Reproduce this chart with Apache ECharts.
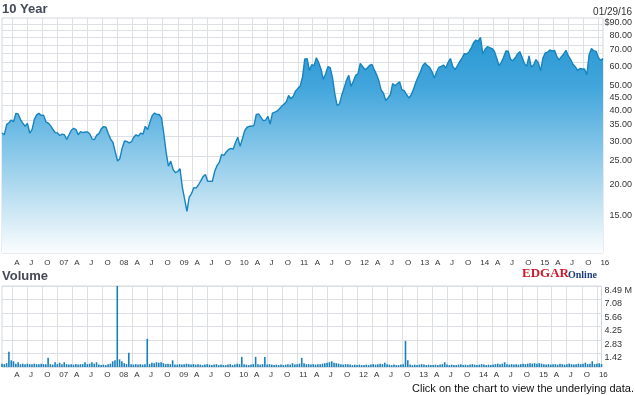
<!DOCTYPE html>
<html><head><meta charset="utf-8">
<script src="https://cdn.jsdelivr.net/npm/echarts@6/dist/echarts.min.js"></script>
<style>html,body{margin:0;padding:0;background:#fff}#c{width:635px;height:395px}</style>
</head><body><div id="c"></div>
<script>
// ---- data ----
const startDate = '2006-01-29';
const endDate = '2016-01-29';
const lastDateLabel = '01/29/16';

const prices = [
31.0,30.5,33.5,34.1,35.0,34.4,37.2,37.0,35.1,34.0,
33.0,33.9,31.0,32.0,35.2,36.7,37.2,36.5,36.6,34.4,
34.0,33.2,32.1,31.1,31.0,30.3,30.7,30.5,29.2,30.5,
31.8,32.4,32.0,30.5,31.4,31.1,31.3,31.3,30.7,29.3,
29.2,30.4,30.9,32.3,32.9,32.7,30.8,29.3,28.4,26.0,
23.9,24.5,27.0,28.8,28.7,28.3,28.6,29.8,30.5,30.1,
31.0,30.7,33.0,32.0,34.3,36.5,37.3,36.8,36.8,35.7,
30.8,25.9,22.8,23.9,22.1,21.5,21.7,22.3,18.8,16.8,
15.0,17.1,17.7,18.7,18.6,19.2,19.9,20.7,21.1,19.8,
19.8,19.8,21.7,22.9,23.6,25.4,25.2,26.0,26.6,26.9,
26.7,28.4,29.8,27.4,29.4,31.7,32.7,33.0,33.0,33.3,
36.8,37.0,35.9,34.8,34.9,36.2,33.7,37.3,37.6,38.0,
38.8,39.7,40.5,41.4,43.9,42.6,43.6,45.7,46.9,47.9,
52.0,61.6,61.8,55.4,58.4,57.9,62.3,59.5,56.1,51.0,
53.6,57.3,56.8,51.6,44.5,40.0,40.6,44.0,47.1,50.5,
52.9,47.8,50.1,52.9,53.7,59.1,57.5,55.8,56.6,58.0,
58.6,55.8,53.4,50.4,46.2,44.9,41.9,42.9,44.2,49.0,
48.0,48.9,49.9,46.3,45.9,44.3,42.9,44.1,46.5,49.5,
52.1,54.6,57.9,59.3,57.9,57.0,54.8,51.6,54.6,57.0,
57.5,58.2,56.6,59.7,61.8,57.5,55.8,57.7,60.1,62.1,
64.7,64.5,65.7,68.2,71.6,73.4,72.5,75.3,64.5,67.4,
69.0,68.4,67.8,66.1,62.1,57.9,59.7,62.5,66.3,66.1,
61.4,60.7,62.1,64.5,65.9,62.5,59.1,57.5,63.3,57.0,
58.4,61.2,59.5,55.2,62.1,65.1,65.5,66.9,66.3,66.7,
63.1,61.0,62.9,64.5,66.7,63.3,61.2,58.6,57.3,55.4,
56.4,56.1,56.1,53.2,64.1,67.8,66.5,66.1,62.3,60.8,61.8
];

// volume in millions
const volumes = [
0.35,0.3,0.4,1.6,0.7,0.6,0.35,0.5,0.3,0.35,
0.3,0.35,0.3,0.3,0.35,0.3,0.3,0.35,0.3,0.3,
0.96,0.3,0.25,0.5,0.3,0.45,0.3,0.5,0.3,0.25,
0.3,0.25,0.3,0.25,0.3,0.3,0.5,0.3,0.35,0.5,
0.35,0.5,0.25,0.2,0.25,0.2,0.3,0.35,0.6,0.7,
8.49,0.8,0.6,0.4,0.3,1.5,0.3,0.25,0.3,0.25,
0.3,0.25,0.3,2.95,0.3,0.45,0.4,0.5,0.45,0.5,
0.4,0.3,0.35,0.3,0.7,0.25,0.25,0.3,0.25,0.3,
0.35,0.3,0.25,0.3,0.25,0.3,0.25,0.2,0.25,0.3,
0.25,0.2,0.25,0.3,0.2,0.25,0.2,0.2,0.25,0.3,
0.2,0.25,0.35,0.3,1.06,0.3,0.25,0.2,0.25,0.3,
1.06,0.3,0.25,0.3,1.06,0.25,0.3,0.25,0.2,0.25,
0.2,0.25,0.2,0.25,0.3,0.25,0.4,0.25,0.3,0.35,
0.96,0.4,0.3,0.3,0.25,0.3,0.25,0.3,0.3,0.35,
0.4,0.45,0.5,0.6,0.45,0.4,0.35,0.3,0.25,0.3,
0.3,0.25,0.2,0.25,0.2,0.25,0.2,0.2,0.25,0.2,
0.25,0.3,0.25,0.3,0.35,0.3,0.45,0.3,0.25,0.2,
0.25,0.2,0.2,0.25,0.3,2.73,0.7,0.25,0.2,0.25,
0.2,0.25,0.3,0.25,0.2,0.25,0.2,0.2,0.25,0.2,
0.25,0.3,0.5,0.25,0.2,0.25,0.2,0.2,0.25,0.3,
0.2,0.25,0.2,0.25,0.3,0.25,0.2,0.25,0.3,0.25,
0.2,0.25,0.2,0.25,0.3,0.35,0.3,0.35,0.5,0.3,
0.25,0.3,0.25,0.3,0.25,0.3,0.35,0.3,0.35,0.4,
0.35,0.4,0.35,0.4,0.35,0.3,0.25,0.3,0.25,0.3,
0.3,0.25,0.35,0.3,0.25,0.3,0.35,0.3,0.25,0.3,
0.35,0.3,0.35,0.45,0.3,0.35,0.6,0.3,0.35,0.4,0.3
];

const quarterTicks = [
'2006-04-01','2006-07-01','2006-10-01',
'2007-01-01','2007-04-01','2007-07-01','2007-10-01',
'2008-01-01','2008-04-01','2008-07-01','2008-10-01',
'2009-01-01','2009-04-01','2009-07-01','2009-10-01',
'2010-01-01','2010-04-01','2010-07-01','2010-10-01',
'2011-01-01','2011-04-01','2011-07-01','2011-10-01',
'2012-01-01','2012-04-01','2012-07-01','2012-10-01',
'2013-01-01','2013-04-01','2013-07-01','2013-10-01',
'2014-01-01','2014-04-01','2014-07-01','2014-10-01',
'2015-01-01','2015-04-01','2015-07-01','2015-10-01',
'2016-01-01'
];
const quarterLabels = [
'A','J','O','07','A','J','O','08','A','J','O','09','A','J','O','10',
'A','J','O','11','A','J','O','12','A','J','O','13','A','J','O','14',
'A','J','O','15','A','J','O','16'
];

const priceGridValues = [15,20,25,30,35,40,45,50,55,60,65,70,75,80,85];
const priceLabelValues = [15,20,25,30,35,40,45,50,60,70,80,90];
const volumeMax = 8.49;
const volumeStep = 1.415;
const volumeTickLabels = ['', '1.42', '2.83', '4.25', '5.66', '7.08', '8.49 M'];

// ---- build ----
const ts = s => Date.parse(s + 'T00:00:00Z');
const t0 = ts(startDate), t1 = ts(endDate);
const step = (t1 - t0) / (prices.length - 1);
const dates = prices.map((_, i) => t0 + i * step);
const priceData = prices.map((p, i) => [dates[i], p]);
const volData = volumes.map((v, i) => [dates[i], v]);
const qTs = quarterTicks.map(ts);
const qLabel = {};
qTs.forEach((t, i) => qLabel[t] = quarterLabels[i]);
const labelFor = v => {
  for (let i = 0; i < qTs.length; i++) if (Math.abs(qTs[i] - v) < 3600000) return quarterLabels[i];
  return '';
};

const gridColor = '#dcdfe3';
const vLines = qTs.map(t => ({ xAxis: t }));
const hLines = priceGridValues.map(v => ({ yAxis: v }));

function makeX(gridIndex, margin) {
  return {
    gridIndex, type: 'value', min: t0, max: t1, scale: true,
    axisLine: { show: false }, axisTick: { show: false }, splitLine: { show: false },
    axisLabel: {
      customValues: qTs,
      formatter: v => labelFor(v),
      fontFamily: 'Liberation Sans, Arial, sans-serif',
      fontSize: 8, color: '#333', align: 'left', padding: [0, 0, 0, 2], margin,
      hideOverlap: false
    }
  };
}

const chart = echarts.init(document.getElementById('c'), null, { renderer: 'canvas' });
chart.setOption({
  animation: false,
  backgroundColor: '#fff',
  grid: [
    { left: 2, right: 32, top: 18, bottom: 142, show: true, borderColor: '#d4d7dc', borderWidth: 1, backgroundColor: '#fff' },
    { left: 2, right: 32, top: 286, bottom: 28, show: true, borderColor: '#d4d7dc', borderWidth: 1, backgroundColor: '#fff' }
  ],
  xAxis: [ makeX(0, 6), makeX(1, 4) ],
  yAxis: [
    {
      gridIndex: 0, type: 'log', logBase: 10, min: 10.2, max: 90, position: 'right',
      axisLine: { show: false }, axisTick: { show: false }, splitLine: { show: false },
      axisLabel: {
        customValues: priceLabelValues,
        formatter: v => (Math.abs(v - 90) < 0.01 ? '$' : '') + Number(v).toFixed(2),
        fontFamily: 'Liberation Sans, Arial, sans-serif',
        fontSize: 9, color: '#333', align: 'right', margin: 29, verticalAlign: 'top'
      }
    },
    {
      gridIndex: 1, type: 'value', min: 0, max: volumeMax, interval: volumeStep, position: 'right',
      axisLine: { show: false }, axisTick: { show: false },
      splitLine: { show: true, lineStyle: { color: gridColor, width: 1 } },
      axisLabel: {
        formatter: v => volumeTickLabels[Math.round(v / volumeStep)] || '',
        fontFamily: 'Liberation Sans, Arial, sans-serif',
        fontSize: 9, color: '#333', align: 'left', margin: 3, verticalAlign: 'top',
        showMinLabel: true, showMaxLabel: true
      }
    }
  ],
  series: [
    {
      type: 'line', xAxisIndex: 0, yAxisIndex: 0, data: priceData, z: 3,
      showSymbol: false, symbol: 'none', silent: true,
      lineStyle: { color: '#1784c0', width: 1.4 },
      areaStyle: {
        origin: 'start',
        color: {
          type: 'linear', global: true, x: 0, y: 18, x2: 0, y2: 253,
          colorStops: [
            { offset: 0, color: '#1f92cf' },
            { offset: 0.3, color: '#43a6dc' },
            { offset: 0.55, color: '#83c5e8' },
            { offset: 0.8, color: '#c6e4f3' },
            { offset: 1, color: '#fbfdfe' }
          ]
        },
        opacity: 1
      },
      markLine: {
        z: 1, silent: true, symbol: ['none', 'none'], animation: false,
        label: { show: false },
        lineStyle: { color: gridColor, width: 1, type: 'solid' },
        emphasis: { disabled: true },
        data: vLines.concat(hLines)
      }
    },
    {
      type: 'bar', xAxisIndex: 1, yAxisIndex: 1, data: volData, z: 3,
      barWidth: 1.6, silent: true,
      itemStyle: { color: '#1a80ba' },
      markLine: {
        z: 1, silent: true, symbol: ['none', 'none'], animation: false,
        label: { show: false },
        lineStyle: { color: gridColor, width: 1, type: 'solid' },
        emphasis: { disabled: true },
        data: vLines
      }
    }
  ],
  graphic: [
    { type: 'text', x: 2, y: 3, style: { text: '10 Year', font: 'bold 13px "Liberation Sans", Arial, sans-serif', fill: '#454a57' } },
    { type: 'text', x: 632, y: 7, style: { text: lastDateLabel, font: '10px "Liberation Sans", Arial, sans-serif', fill: '#333', align: 'right' } },
    { type: 'text', x: 2, y: 270, style: { text: 'Volume', font: 'bold 13px "Liberation Sans", Arial, sans-serif', fill: '#454a57' } },
    { type: 'text', x: 522, y: 280, style: { text: 'EDGAR', font: 'bold 13px "Liberation Serif", "Times New Roman", serif', fill: '#cc1a2a', verticalAlign: 'bottom' } },
    { type: 'text', x: 568, y: 280, style: { text: 'Online', font: 'bold 10px "Liberation Serif", "Times New Roman", serif', fill: '#1d3d78', verticalAlign: 'bottom' } },
    { type: 'text', x: 412, y: 383, style: { text: 'Click on the chart to view the underlying data.', font: '11px "Liberation Sans", Arial, sans-serif', fill: '#111' } }
  ]
});
</script>
</body></html>
